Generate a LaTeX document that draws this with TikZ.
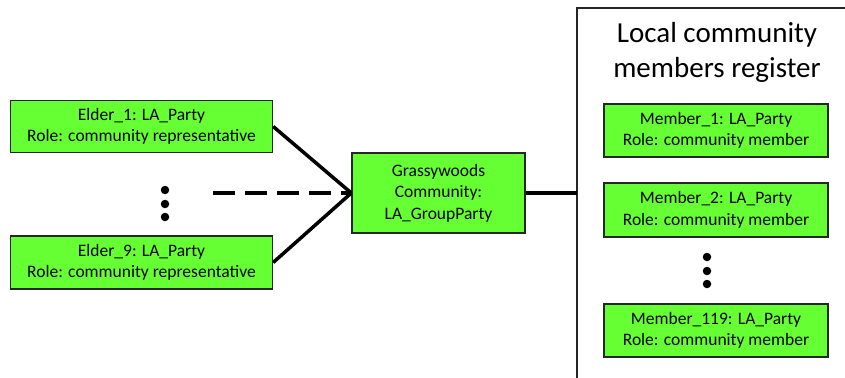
\documentclass[tikz,border=0pt]{standalone}
\usepackage{fontspec}
\setmainfont{Carlito}
\definecolor{boxgreen}{RGB}{102,255,51}
\begin{document}
\begin{tikzpicture}[x=1bp,y=-1bp,
  partybox/.style={draw=black!85,line width=1.4bp,fill=boxgreen,inner sep=0pt,align=center,
    font=\fontsize{17.5bp}{21.5bp}\selectfont},
  conn/.style={line width=3.5bp,black},
  dotmark/.style={circle,fill=black,inner sep=0pt,minimum size=8.5bp}]
\useasboundingbox (0,0) rectangle (845,377);
\clip (0,0) rectangle (845,377);
% register frame
\draw[line width=1.4bp,black!85] (577,400) -- (577,8) -- (870,8);
\node[font=\fontsize{29bp}{35bp}\selectfont,align=center] (title) at (717,52) {Local community\\members register};
% boxes
\node[partybox,minimum width=262bp,minimum height=52bp] (e1) at (141.5,126.5) {Elder\_1: LA\_Party\\Role: community representative};
\node[partybox,minimum width=262bp,minimum height=53bp] (e9) at (141.5,262.5) {Elder\_9: LA\_Party\\Role: community representative};
\node[partybox,minimum width=173bp,minimum height=80bp] (g) at (438.5,193) {Grassywoods\\Community:\\LA\_GroupParty};
\node[partybox,minimum width=224bp,minimum height=53bp] (m1) at (716,130.5) {Member\_1: LA\_Party\\Role: community member};
\node[partybox,minimum width=224bp,minimum height=54bp] (m2) at (716,210) {Member\_2: LA\_Party\\Role: community member};
\node[partybox,minimum width=224bp,minimum height=53bp] (m119) at (716,330.5) {Member\_119: LA\_Party\\Role: community member};
% dots
\node[dotmark] (d1) at (165,190) {};
\node[dotmark] (d2) at (165,204) {};
\node[dotmark] (d3) at (165,217) {};
\node[dotmark] (d4) at (707,257) {};
\node[dotmark] (d5) at (707,271) {};
\node[dotmark] (d6) at (707,284) {};
% connectors
\coordinate (dashstart) at (213,193);
\coordinate (regL) at (577,193);
\draw[conn] (e1.east) -- (g.west);
\draw[conn] (e9.east) -- (g.west);
\draw[conn,dash pattern=on 22bp off 10bp] (dashstart) -- (g.west);
\draw[conn] (g.east) -- (regL);
\end{tikzpicture}
\end{document}
